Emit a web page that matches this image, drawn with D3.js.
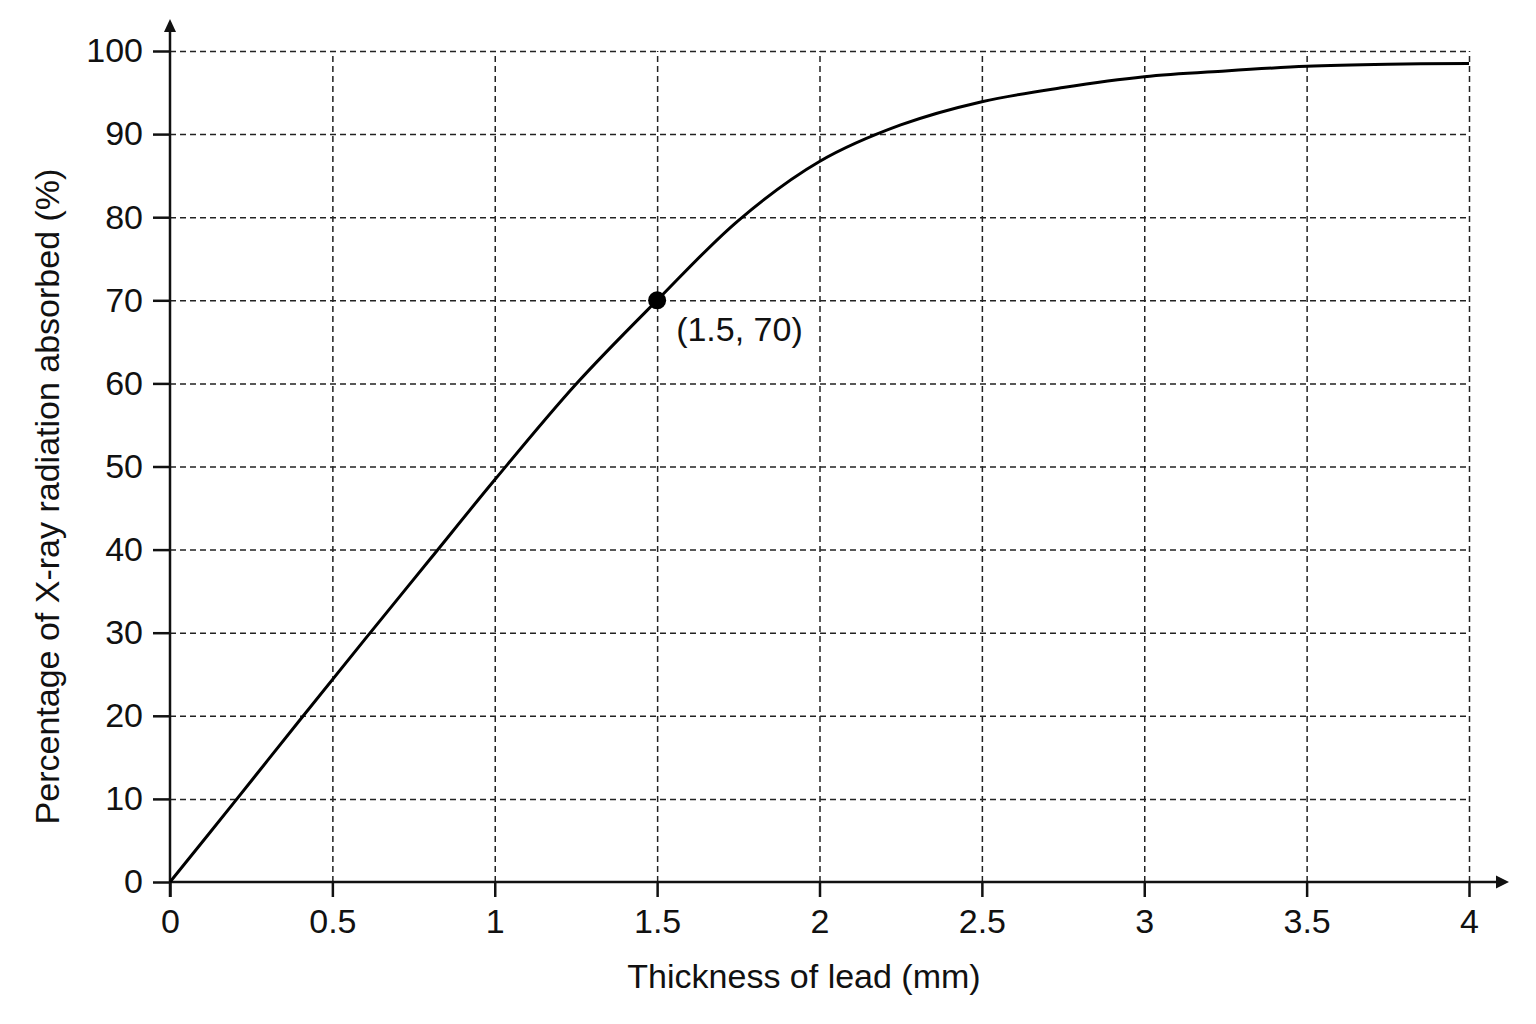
<!DOCTYPE html>
<html>
<head>
<meta charset="utf-8">
<script src="https://cdn.jsdelivr.net/npm/d3@7"></script>
<style>
  body { margin: 0; background: #fff; }
  svg { display: block; font-family: "Liberation Sans", Arial, sans-serif; }
</style>
</head>
<body>
<svg id="chart" width="1536" height="1024"></svg>
<script>
// Data
let thickness = [0, 0.2, 0.4, 0.6, 0.8, 1.0, 1.25, 1.5, 1.75, 2.0, 2.25, 2.5, 2.75, 3.0, 3.25, 3.5, 3.75, 4.0];
let absorbed  = [0, 9.7, 19.5, 29.2, 38.8, 48.4, 59.9, 70, 79.6, 86.7, 91.1, 93.9, 95.6, 96.9, 97.6, 98.15, 98.4, 98.5];

let xTicks = [0, 0.5, 1, 1.5, 2, 2.5, 3, 3.5, 4];
let yTicks = [0, 10, 20, 30, 40, 50, 60, 70, 80, 90, 100];

let marked = { x: 1.5, y: 70, label: "(1.5, 70)" };

let xTitle = "Thickness of lead (mm)";
let yTitle = "Percentage of X-ray radiation absorbed (%)";

let fontSize = '34px';

// Scales
let x = d3.scaleLinear().domain([0, 4]).range([170, 1469]);
let y = d3.scaleLinear().domain([0, 100]).range([882, 51]);

let svg = d3.select('#chart');

// Dashed grid
let grid = svg.append('g').attr('class', 'grid');
grid.append('g')
    .attr('transform', `translate(0,${y(0)})`)
    .call(d3.axisBottom(x).tickValues(xTicks.slice(1)).tickSize(-(y(0) - y(100))).tickFormat(''))
    .call(g => g.select('.domain').remove());
grid.append('g')
    .attr('transform', `translate(${x(0)},0)`)
    .call(d3.axisLeft(y).tickValues(yTicks.slice(1)).tickSize(-(x(4) - x(0))).tickFormat(''))
    .call(g => g.select('.domain').remove());
grid.selectAll('line')
    .attr('stroke', '#222')
    .attr('stroke-width', 1.5)
    .attr('stroke-dasharray', '6,4');

// Axes (ticks outward, labels)
let xAxis = svg.append('g')
    .attr('transform', `translate(0,${y(0)})`)
    .call(d3.axisBottom(x).tickValues(xTicks).tickSize(15).tickPadding(12).tickFormat(d3.format('')));
let yAxis = svg.append('g')
    .attr('transform', `translate(${x(0)},0)`)
    .call(d3.axisLeft(y).tickValues(yTicks).tickSize(17).tickPadding(10).tickFormat(d3.format('')));

[xAxis, yAxis].forEach(a => {
    a.select('.domain').remove();
    a.selectAll('line').attr('stroke', '#111').attr('stroke-width', 2.5);
    a.selectAll('text').attr('fill', '#111').style('font-size', fontSize);
});

// Axis lines with arrows
svg.append('line')
    .attr('x1', x(0)).attr('x2', x(4) + 30)
    .attr('y1', y(0)).attr('y2', y(0))
    .attr('stroke', '#111').attr('stroke-width', 2.5);
svg.append('path')
    .attr('d', `M${x(4) + 40},${y(0)} L${x(4) + 27},${y(0) - 6.5} L${x(4) + 27},${y(0) + 6.5} Z`)
    .attr('fill', '#111');

svg.append('line')
    .attr('x1', x(0)).attr('x2', x(0))
    .attr('y1', y(0) + 15).attr('y2', y(100) - 22)
    .attr('stroke', '#111').attr('stroke-width', 2.5);
svg.append('path')
    .attr('d', `M${x(0)},${y(100) - 32} L${x(0) - 6},${y(100) - 19} L${x(0) + 6},${y(100) - 19} Z`)
    .attr('fill', '#111');

// Curve
let points = thickness.map((t, i) => [t, absorbed[i]]);
let line = d3.line()
    .x(d => x(d[0]))
    .y(d => y(d[1]))
    .curve(d3.curveCatmullRom.alpha(0.5));

svg.append('path')
    .datum(points)
    .attr('d', line)
    .attr('fill', 'none')
    .attr('stroke', '#000')
    .attr('stroke-width', 3);

// Marked point
svg.append('circle')
    .attr('cx', x(marked.x))
    .attr('cy', y(marked.y))
    .attr('r', 9)
    .attr('fill', '#000');
svg.append('text')
    .attr('x', x(marked.x) + 19)
    .attr('y', y(marked.y) + 41)
    .attr('fill', '#111')
    .style('font-size', fontSize)
    .text(marked.label);

// Axis titles
svg.append('text')
    .attr('x', 804)
    .attr('y', 988)
    .attr('text-anchor', 'middle')
    .attr('fill', '#111')
    .style('font-size', fontSize)
    .text(xTitle);

svg.append('text')
    .attr('transform', `translate(59,${(y(0) + y(100)) / 2 + 30}) rotate(-90)`)
    .attr('text-anchor', 'middle')
    .attr('fill', '#111')
    .style('font-size', fontSize)
    .text(yTitle);
</script>
</body>
</html>
